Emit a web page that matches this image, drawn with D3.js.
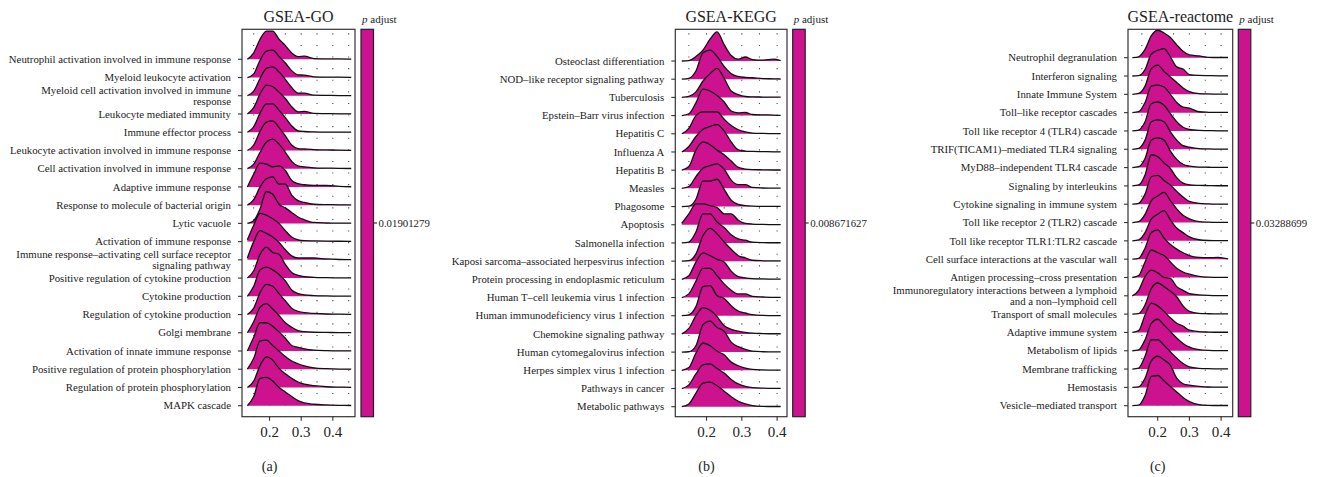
<!DOCTYPE html>
<html>
<head>
<meta charset="utf-8">
<title>GSEA ridgeplots</title>
<script src="https://d3js.org/d3.v7.min.js"></script>
<style>
  body { margin: 0; background: #fff; }
  svg text { font-family: "Liberation Serif", "DejaVu Serif", serif; fill: #222; }
</style>
</head>
<body>
<svg id="chart" width="1318" height="477"></svg>
<script>
// ---- data ----
// density heights are in "row" units (1 = distance between two ridges)

var goTerms = [
  "Neutrophil activation involved in immune response",
  "Myeloid leukocyte activation",
  "Myeloid cell activation involved in immune\nresponse",
  "Leukocyte mediated immunity",
  "Immune effector process",
  "Leukocyte activation involved in immune response",
  "Cell activation involved in immune response",
  "Adaptive immune response",
  "Response to molecule of bacterial origin",
  "Lytic vacuole",
  "Activation of immune response",
  "Immune response\u2013activating cell surface receptor\nsignaling pathway",
  "Positive regulation of cytokine production",
  "Cytokine production",
  "Regulation of cytokine production",
  "Golgi membrane",
  "Activation of innate immune response",
  "Positive regulation of protein phosphorylation",
  "Regulation of protein phosphorylation",
  "MAPK cascade"
];
var goX = [0.13, 0.15, 0.17, 0.19, 0.21, 0.23, 0.25, 0.27, 0.29, 0.31, 0.34, 0.38, 0.42, 0.458];
var goDens = [
  [0, 0.35, 1.1, 1.55, 1.55, 1.1, 0.75, 0.35, 0.15, 0.17, 0.04, 0.02, 0.02, 0.01],
  [0, 0.2, 0.95, 1.45, 1.5, 1.15, 0.8, 0.38, 0.15, 0.13, 0.04, 0.02, 0.02, 0.01],
  [0, 0.25, 0.95, 1.5, 1.58, 1.3, 0.9, 0.45, 0.15, 0.14, 0.03, 0.02, 0.01, 0.01],
  [0, 0.35, 1.1, 1.58, 1.5, 1.2, 0.85, 0.4, 0.12, 0.14, 0.03, 0.02, 0.01, 0.01],
  [0, 0.3, 1.05, 1.55, 1.55, 1.2, 0.8, 0.35, 0.08, 0.04, 0.02, 0.01, 0.01, 0.01],
  [0, 0.3, 1.05, 1.55, 1.62, 1.25, 0.8, 0.3, 0.1, 0.08, 0.05, 0.03, 0.02, 0.01],
  [0, 0.25, 0.9, 1.45, 1.62, 1.35, 0.9, 0.4, 0.15, 0.1, 0.05, 0.03, 0.02, 0.01],
  [0, 0.7, 1.3, 1.25, 1.1, 1.15, 0.9, 0.35, 0.18, 0.12, 0.08, 0.08, 0.03, 0.01],
  [0, 0.3, 1.0, 1.45, 1.55, 1.15, 1.15, 0.55, 0.25, 0.15, 0.05, 0.03, 0.02, 0.01],
  [0, 0.15, 0.8, 1.75, 1.6, 1.05, 0.85, 0.6, 0.35, 0.2, 0.05, 0.02, 0.01, 0.01],
  [0.1, 0.9, 1.55, 1.45, 1.25, 1.0, 0.6, 0.25, 0.1, 0.05, 0.04, 0.03, 0.02, 0.01],
  [0.1, 1.0, 1.6, 1.45, 1.25, 0.95, 0.55, 0.22, 0.1, 0.1, 0.1, 0.05, 0.02, 0.01],
  [0, 0.4, 1.3, 1.7, 1.4, 1.3, 0.75, 0.3, 0.15, 0.08, 0.04, 0.02, 0.01, 0.01],
  [0, 0.55, 1.45, 1.6, 1.45, 1.2, 0.85, 0.35, 0.15, 0.08, 0.04, 0.02, 0.01, 0.01],
  [0, 0.35, 1.2, 1.65, 1.55, 1.15, 0.75, 0.35, 0.18, 0.1, 0.06, 0.03, 0.02, 0.01],
  [0, 0.6, 1.4, 1.6, 1.3, 0.95, 0.55, 0.3, 0.12, 0.06, 0.03, 0.02, 0.01, 0.01],
  [0, 0.75, 1.55, 1.55, 1.35, 1.05, 0.7, 0.3, 0.2, 0.12, 0.05, 0.02, 0.01, 0.01],
  [0, 0.6, 1.55, 1.6, 1.3, 1.0, 0.7, 0.45, 0.3, 0.18, 0.08, 0.03, 0.01, 0.01],
  [0, 0.35, 1.2, 1.68, 1.5, 1.05, 0.75, 0.5, 0.3, 0.18, 0.1, 0.04, 0.02, 0.01],
  [0, 0.5, 1.5, 1.55, 1.35, 1.0, 0.75, 0.5, 0.28, 0.15, 0.08, 0.04, 0.02, 0.01]
];
var goPadj = "0.01901279";

var keggTerms = [
  "Osteoclast differentiation",
  "NOD\u2013like receptor signaling pathway",
  "Tuberculosis",
  "Epstein\u2013Barr virus infection",
  "Hepatitis C",
  "Influenza A",
  "Hepatitis B",
  "Measles",
  "Phagosome",
  "Apoptosis",
  "Salmonella infection",
  "Kaposi sarcoma\u2013associated herpesvirus infection",
  "Protein processing in endoplasmic reticulum",
  "Human T\u2013cell leukemia virus 1 infection",
  "Human immunodeficiency virus 1 infection",
  "Chemokine signaling pathway",
  "Human cytomegalovirus infection",
  "Herpes simplex virus 1 infection",
  "Pathways in cancer",
  "Metabolic pathways"
];
var keggX = [0.13, 0.15, 0.17, 0.19, 0.21, 0.23, 0.25, 0.27, 0.29, 0.31, 0.33, 0.36, 0.39, 0.41];
var keggDens = [
  [0, 0.02, 0.25, 0.6, 1.2, 1.6, 0.9, 0.3, 0.1, 0.22, 0.08, 0.05, 0.1, 0.02],
  [0, 0.05, 0.45, 1.45, 1.6, 1.25, 0.7, 0.3, 0.15, 0.1, 0.08, 0.03, 0.02, 0.01],
  [0, 0.05, 0.3, 0.9, 1.3, 1.6, 1.05, 0.35, 0.15, 0.05, 0.03, 0.02, 0.01, 0.01],
  [0, 0.1, 0.7, 1.45, 1.35, 1.1, 0.75, 0.25, 0.15, 0.17, 0.06, 0.04, 0.03, 0.01],
  [0, 0.3, 1.0, 1.2, 1.2, 1.2, 0.8, 0.45, 0.22, 0.1, 0.04, 0.02, 0.01, 0.01],
  [0, 0.3, 0.85, 1.25, 1.4, 1.5, 1.15, 0.55, 0.12, 0.05, 0.03, 0.02, 0.01, 0.01],
  [0, 0.2, 1.1, 1.55, 1.4, 1.1, 0.85, 0.5, 0.15, 0.06, 0.03, 0.02, 0.01, 0.01],
  [0, 0.1, 0.65, 1.1, 1.25, 1.35, 1.05, 0.45, 0.2, 0.2, 0.05, 0.02, 0.01, 0.01],
  [0, 0.02, 0.4, 1.4, 1.4, 1.5, 0.95, 0.35, 0.12, 0.05, 0.02, 0.01, 0.01, 0.01],
  [0.08, 0.6, 1.15, 1.15, 1.05, 0.95, 0.6, 0.6, 0.25, 0.08, 0.04, 0.02, 0.01, 0.01],
  [0, 0.05, 0.6, 1.6, 1.6, 1.15, 0.85, 0.45, 0.22, 0.15, 0.05, 0.02, 0.01, 0.01],
  [0, 0.03, 0.4, 1.4, 1.8, 1.5, 1.05, 0.65, 0.3, 0.18, 0.05, 0.02, 0.01, 0.01],
  [0, 0.2, 0.95, 1.45, 1.3, 1.1, 0.95, 0.45, 0.15, 0.08, 0.04, 0.02, 0.01, 0.01],
  [0, 0.2, 0.9, 1.6, 1.6, 1.2, 0.75, 0.4, 0.2, 0.2, 0.06, 0.03, 0.01, 0.01],
  [0, 0.05, 0.5, 1.6, 1.65, 1.1, 0.95, 0.55, 0.25, 0.15, 0.06, 0.02, 0.01, 0.01],
  [0, 0.3, 1.0, 1.45, 1.3, 0.95, 0.45, 0.25, 0.15, 0.08, 0.04, 0.02, 0.01, 0.01],
  [0, 0.02, 0.35, 1.5, 1.7, 1.35, 1.15, 0.55, 0.3, 0.15, 0.05, 0.02, 0.01, 0.01],
  [0, 0.15, 0.95, 1.5, 1.35, 1.05, 0.85, 0.45, 0.25, 0.12, 0.05, 0.02, 0.01, 0.01],
  [0, 0.2, 0.8, 1.3, 1.35, 1.1, 0.85, 0.5, 0.25, 0.12, 0.05, 0.02, 0.01, 0.01],
  [0, 0.15, 0.75, 1.3, 1.35, 1.15, 0.85, 0.55, 0.3, 0.15, 0.06, 0.02, 0.01, 0.01]
];
var keggPadj = "0.008671627";

var reactTerms = [
  "Neutrophil degranulation",
  "Interferon signaling",
  "Innate Immune System",
  "Toll\u2013like receptor cascades",
  "Toll like receptor 4 (TLR4) cascade",
  "TRIF(TICAM1)\u2013mediated TLR4 signaling",
  "MyD88\u2013independent TLR4 cascade",
  "Signaling by interleukins",
  "Cytokine signaling in immune system",
  "Toll like receptor 2 (TLR2) cascade",
  "Toll like receptor TLR1:TLR2 cascade",
  "Cell surface interactions at the vascular wall",
  "Antigen processing\u2013cross presentation",
  "Immunoregulatory interactions between a lymphoid\nand a non\u2013lymphoid cell",
  "Transport of small molecules",
  "Adaptive immune system",
  "Metabolism of lipids",
  "Membrane trafficking",
  "Hemostasis",
  "Vesicle\u2013mediated transport"
];
var reactX = [0.12, 0.14, 0.16, 0.18, 0.20, 0.22, 0.24, 0.26, 0.28, 0.30, 0.33, 0.36, 0.39, 0.422];
var reactDens = [
  [0, 0.05, 0.45, 1.2, 1.5, 1.35, 1.1, 0.7, 0.35, 0.15, 0.1, 0.02, 0.01, 0.01],
  [0, 0.02, 0.35, 1.2, 1.4, 1.5, 1.05, 0.5, 0.38, 0.08, 0.03, 0.02, 0.01, 0.01],
  [0, 0.05, 0.45, 1.4, 1.6, 1.25, 0.95, 0.65, 0.35, 0.15, 0.04, 0.02, 0.01, 0.01],
  [0, 0.05, 0.55, 1.45, 1.5, 1.4, 1.0, 0.55, 0.3, 0.25, 0.05, 0.02, 0.01, 0.01],
  [0, 0.05, 0.5, 1.5, 1.58, 1.4, 0.95, 0.5, 0.2, 0.08, 0.03, 0.02, 0.01, 0.01],
  [0, 0.05, 0.5, 1.5, 1.6, 1.5, 0.95, 0.5, 0.2, 0.12, 0.04, 0.02, 0.01, 0.01],
  [0, 0.05, 0.5, 1.5, 1.62, 1.5, 0.9, 0.45, 0.18, 0.08, 0.03, 0.02, 0.01, 0.01],
  [0, 0.05, 0.6, 1.7, 1.6, 1.25, 0.95, 0.45, 0.15, 0.06, 0.03, 0.02, 0.01, 0.01],
  [0, 0.05, 0.55, 1.5, 1.58, 1.3, 1.05, 0.7, 0.4, 0.15, 0.05, 0.02, 0.01, 0.01],
  [0, 0.05, 0.45, 1.2, 1.45, 1.65, 1.2, 0.75, 0.4, 0.2, 0.05, 0.02, 0.01, 0.01],
  [0, 0.05, 0.45, 1.2, 1.45, 1.65, 1.15, 0.7, 0.45, 0.22, 0.06, 0.02, 0.01, 0.01],
  [0, 0.05, 0.6, 1.45, 1.6, 1.15, 0.8, 0.55, 0.35, 0.2, 0.1, 0.08, 0.1, 0.01],
  [0, 0.1, 0.85, 1.5, 1.35, 1.2, 0.85, 0.5, 0.3, 0.18, 0.06, 0.02, 0.01, 0.01],
  [0, 0.3, 1.05, 1.4, 1.25, 1.0, 0.95, 0.5, 0.3, 0.12, 0.05, 0.02, 0.01, 0.01],
  [0, 0.03, 0.5, 1.4, 1.7, 1.5, 1.25, 0.95, 0.45, 0.15, 0.04, 0.02, 0.01, 0.01],
  [0, 0.1, 0.95, 1.6, 1.45, 1.15, 0.8, 0.5, 0.35, 0.12, 0.04, 0.02, 0.01, 0.01],
  [0, 0.05, 0.6, 1.5, 1.72, 1.4, 1.05, 0.7, 0.4, 0.2, 0.06, 0.02, 0.01, 0.01],
  [0, 0.05, 0.7, 1.6, 1.6, 1.3, 0.95, 0.6, 0.3, 0.12, 0.04, 0.02, 0.01, 0.01],
  [0, 0.03, 0.5, 1.45, 1.7, 1.5, 1.2, 0.5, 0.2, 0.12, 0.06, 0.02, 0.01, 0.01],
  [0, 0.03, 0.55, 1.6, 1.65, 1.35, 1.05, 0.75, 0.45, 0.22, 0.06, 0.02, 0.01, 0.01]
];
var reactPadj = "0.03288699";

var xTickVals = [0.2, 0.3, 0.4];
var gridVals = [0.15, 0.2, 0.25, 0.3, 0.35, 0.4, 0.45];

// ---- layout ----
var fillCol = "#CC128F";
var plotTop = 29.3, plotBottom = 416.7;

var panels = [
  {title: "GSEA-GO", tag: "(a)", terms: goTerms, xs: goX, dens: goDens, padj: goPadj,
   left: 242, right: 355, dom: [0.113, 0.470], y0: 59.3, y1: 405.7, bar: 361},
  {title: "GSEA-KEGG", tag: "(b)", terms: keggTerms, xs: keggX, dens: keggDens, padj: keggPadj,
   left: 675.3, right: 787, dom: [0.1116, 0.428], y0: 61, y1: 406.7, bar: 792.7},
  {title: "GSEA-reactome", tag: "(c)", terms: reactTerms, xs: reactX, dens: reactDens, padj: reactPadj,
   left: 1128, right: 1232.7, dom: [0.1063, 0.4366], y0: 57.7, y1: 405.7, bar: 1238.3}
];

var svg = d3.select("#chart");

panels.forEach(function(p) {
  var x = d3.scaleLinear().domain(p.dom).range([p.left, p.right]);
  var y = d3.scaleLinear().domain([0, p.terms.length - 1]).range([p.y0, p.y1]);
  var step = (p.y1 - p.y0) / (p.terms.length - 1);

  var g = svg.append("g");

  // dotted grid
  g.selectAll(".grid")
    .data(gridVals.filter(function(v) { return x(v) < p.right - 2; }))
    .enter().append("line")
    .attr("x1", function(d) { return x(d); })
    .attr("x2", function(d) { return x(d); })
    .attr("y1", plotTop + 4)
    .attr("y2", plotBottom)
    .attr("stroke", "#444")
    .attr("stroke-width", 1.1)
    .attr("stroke-dasharray", "1.1,10.5");

  // ridges, top one first so the lower ones overlap it
  p.dens.forEach(function(hs, i) {
    var pts = p.xs.map(function(v, k) { return [v, hs[k]]; });
    var base = y(i);
    var area = d3.area()
      .x(function(d) { return x(d[0]); })
      .y0(base)
      .y1(function(d) { return base - d[1] * step; })
      .curve(d3.curveMonotoneX);
    var line = d3.line()
      .x(function(d) { return x(d[0]); })
      .y(function(d) { return base - d[1] * step; })
      .curve(d3.curveMonotoneX);
    g.append("path").datum(pts).attr("d", area).attr("fill", fillCol);
    g.append("path").datum(pts).attr("d", line)
      .attr("fill", "none").attr("stroke", "#111").attr("stroke-width", 1.3);
  });

  // panel border
  g.append("rect")
    .attr("x", p.left).attr("y", plotTop)
    .attr("width", p.right - p.left).attr("height", plotBottom - plotTop)
    .attr("fill", "none").attr("stroke", "#333").attr("stroke-width", 1.2);

  // y axis ticks + labels
  p.terms.forEach(function(t, i) {
    var yy = y(i);
    g.append("line")
      .attr("x1", p.left - 4).attr("x2", p.left)
      .attr("y1", yy).attr("y2", yy)
      .attr("stroke", "#333").attr("stroke-width", 1.1);
    var lines = t.split("\n");
    var txt = g.append("text")
      .attr("x", p.left - 11)
      .attr("y", yy)
      .attr("text-anchor", "end")
      .style("font-size", "10.8px");
    lines.forEach(function(s, k) {
      txt.append("tspan")
        .attr("x", p.left - 11)
        .attr("y", yy + 3.7 + (k - (lines.length - 1) / 2) * 11.5)
        .text(s);
    });
  });

  // x axis
  xTickVals.forEach(function(v) {
    g.append("line")
      .attr("x1", x(v)).attr("x2", x(v))
      .attr("y1", plotBottom).attr("y2", plotBottom + 4)
      .attr("stroke", "#333").attr("stroke-width", 1.1);
    g.append("text")
      .attr("x", x(v)).attr("y", plotBottom + 20)
      .attr("text-anchor", "middle")
      .style("font-size", "15px")
      .text(d3.format(".1f")(v));
  });

  // title
  g.append("text")
    .attr("x", (p.left + p.right) / 2).attr("y", 22)
    .attr("text-anchor", "middle")
    .style("font-size", "16px")
    .text(p.title);

  // colour bar legend
  var barW = 12.5;
  g.append("rect")
    .attr("x", p.bar).attr("y", plotTop)
    .attr("width", barW).attr("height", plotBottom - plotTop)
    .attr("fill", fillCol).attr("stroke", "#222").attr("stroke-width", 1.2);
  var midY = (plotTop + plotBottom) / 2;
  g.append("line")
    .attr("x1", p.bar + barW).attr("x2", p.bar + barW + 3.5)
    .attr("y1", midY).attr("y2", midY)
    .attr("stroke", "#222").attr("stroke-width", 1.1);
  g.append("text")
    .attr("x", p.bar + barW + 5).attr("y", midY + 3.7)
    .style("font-size", "10.8px")
    .text(p.padj);
  var lg = g.append("text")
    .attr("x", p.bar + 1).attr("y", 23)
    .style("font-size", "11px");
  lg.append("tspan").style("font-style", "italic").text("p");
  lg.append("tspan").text(" adjust");

  // panel tag
  g.append("text")
    .attr("x", x(0.2)).attr("y", 471)
    .attr("text-anchor", "middle")
    .style("font-size", "14px")
    .text(p.tag);
});
</script>
</body>
</html>
